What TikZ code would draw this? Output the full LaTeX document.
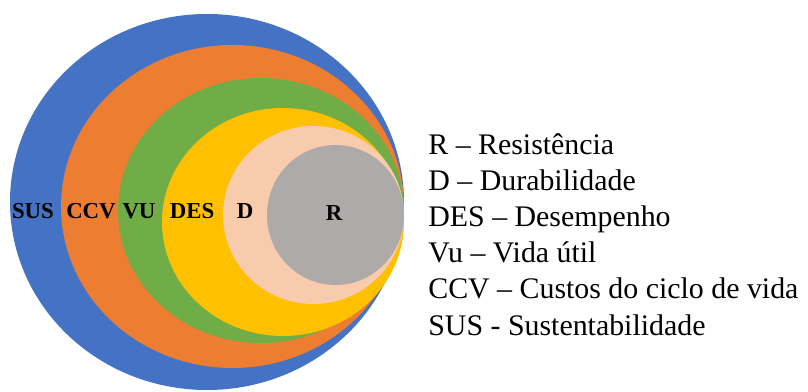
\documentclass[tikz,border=0pt]{standalone}
\usepackage{fontspec}
\setmainfont{Liberation Serif}
\usepackage{tikz}

\definecolor{susblue}{HTML}{4472C4}
\definecolor{ccvorange}{HTML}{ED7D31}
\definecolor{vugreen}{HTML}{70AD47}
\definecolor{desyellow}{HTML}{FFC000}
\definecolor{dpeach}{HTML}{F8CBAD}
\definecolor{rgray}{HTML}{AEAAAA}

\tikzset{
    ringlabel/.style={anchor=base, inner sep=0pt, font=\fontsize{13}{15}\selectfont\bfseries},
    legenda/.style={anchor=base west, inner sep=0pt, font=\fontsize{17}{20}\selectfont}
}

\begin{document}
\begin{tikzpicture}
                        \useasboundingbox (0,0) rectangle (16.16,7.82);
                        % nested rings
                        \fill[susblue] (4.14,3.78) ellipse (3.94 and 3.76);
                        \fill[ccvorange] (4.65,3.69) ellipse (3.43 and 3.23);
                        \fill[vugreen] (5.22,3.61) ellipse (2.86 and 2.65);
                        \fill[desyellow] (5.66,3.38) ellipse (2.42 and 2.28);
                        \fill[dpeach] (6.27,3.52) ellipse (1.81 and 1.78);
                        \fill[rgray] (6.71,3.52) ellipse (1.37 and 1.40);
                        % labels
                        \node[ringlabel] (sus) at (0.66,3.45) {SUS};
                        \node[ringlabel] (ccv) at (1.82,3.45) {CCV};
                        \node[ringlabel] (vu) at (2.78,3.45) {VU};
                        \node[ringlabel] (des) at (3.84,3.45) {DES};
                        \node[ringlabel] (d) at (4.90,3.45) {D};
                        \node[ringlabel] (r) at (6.68,3.41) {R};
                        % legend
                        \node[legenda] (legR) at (8.56,4.72) {R -- Resistência};
                        \node[legenda] (legD) at (8.56,4.00) {D -- Durabilidade};
                        \node[legenda] (legDES) at (8.56,3.28) {DES -- Desempenho};
                        \node[legenda] (legVU) at (8.56,2.56) {Vu -- Vida útil};
                        \node[legenda] (legCCV) at (8.56,1.84) {CCV -- Custos do ciclo de vida};
                        \node[legenda] (legSUS) at (8.56,1.12) {SUS - Sustentabilidade};
                    \end{tikzpicture}
\end{document}
